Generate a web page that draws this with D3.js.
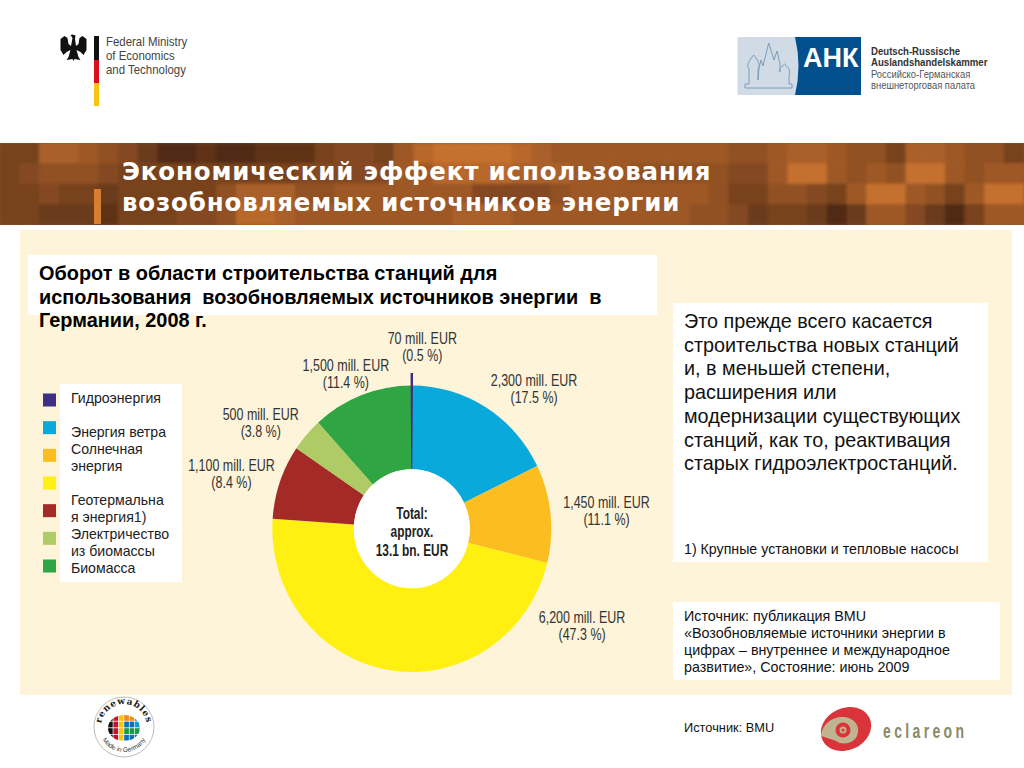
<!DOCTYPE html>
<html>
<head>
<meta charset="utf-8">
<script src="https://cdn.jsdelivr.net/npm/d3@7/dist/d3.min.js"></script>
<style>
  html, body { margin: 0; padding: 0; background: #fff; }
  svg { display: block; }
  text { font-family: "Liberation Sans", Arial, sans-serif; }
</style>
</head>
<body>
<div id="chart"></div>
<script>
// data
var values = [70, 2300, 1450, 6200, 1100, 500, 1500];
var shares = ["(0.5 %)", "(17.5 %)", "(11.1 %)", "(47.3 %)", "(8.4 %)", "(3.8 %)", "(11.4 %)"];
var sliceColors = ["#3d2f87", "#0aa9dc", "#fbbd20", "#fff012", "#a32a26", "#aecb66", "#2fa544"];
var legendLines = ["Гидроэнергия", "", "Энергия ветра", "Солнечная", "энергия", "", "Геотермальна", "я энергия1)", "Электричество", "из биомассы", "Биомасса"];
var totalLines = ["Total:", "approx.", "13.1 bn. EUR"];

var titleLines = ["Экономический эффект использования", "возобновляемых источников энергии"];
var headLines = ["Оборот в области строительства станций для", "использования  возобновляемых источников энергии  в", "Германии, 2008 г."];
var bodyLines = ["Это прежде всего касается", "строительства новых станций", "и, в меньшей степени,", "расширения или", "модернизации существующих", "станций, как то, реактивация", "старых гидроэлектростанций."];
var sourceLines = ["Источник: публикация BMU", "«Возобновляемые источники энергии в", "цифрах – внутреннее и международное", "развитие», Состояние: июнь 2009"];

// brightness of the banner tiles, 0 dark to 9 light
var bannerRows = [
  "33776542001001113443689999876666666" + "66556776553776553",
  "34555433333333344444668888777666555" + "55446996565996566",
  "33433233333577755666666644445666666" + "65335543699653699",
  "33222133344588766666666777666666666" + "55423320266420366"
];

var svg = d3.select("#chart").append("svg").attr("width", 1024).attr("height", 768);
var defs = svg.append("defs");

function lines(g, arr, x, y, step, size, attrs) {
  var t = g.append("g").selectAll("text").data(arr).join("text")
    .attr("x", x)
    .attr("y", (d, i) => y + i * step)
    .attr("font-size", size)
    .attr("xml:space", "preserve")
    .style("white-space", "pre")
    .text(d => d);
  Object.keys(attrs || {}).forEach(k => t.attr(k, attrs[k]));
  return t;
}

// no narrow font is installed, so squeeze the text sideways around its own x
function squeeze(sel, f) {
  return sel.attr("transform", function() {
    var x = +this.getAttribute("x") || 0;
    return "translate(" + x + ",0) scale(" + f + ",1) translate(" + (-x) + ",0)";
  });
}

// banner
var tone = d3.scaleLinear().domain([0, 9]).range(["#512b15", "#c4702f"]);
defs.append("clipPath").attr("id", "bannerClip").append("rect").attr("x", 0).attr("y", 143).attr("width", 1024).attr("height", 82);
defs.append("filter").attr("id", "soft").attr("x", "-2%").attr("y", "-10%").attr("width", "104%").attr("height", "120%")
  .append("feGaussianBlur").attr("stdDeviation", 1.5);
var bx = d3.scaleLinear().domain([0, 52]).range([0, 1024]);
var by = d3.scaleLinear().domain([0, 4]).range([143, 225]);
var bannerClip = svg.append("g").attr("clip-path", "url(#bannerClip)");
bannerClip.append("rect").attr("x", 0).attr("y", 143).attr("width", 1024).attr("height", 82).attr("fill", "#8a5430");
var banner = bannerClip.append("g").attr("filter", "url(#soft)");
bannerRows.forEach((row, r) => {
  banner.append("g").selectAll("rect").data(row.split("")).join("rect")
    .attr("x", (d, i) => bx(i) - 0.3)
    .attr("y", by(r) - 0.3)
    .attr("width", bx(1) + 0.6)
    .attr("height", by(1) - by(0) + 0.6)
    .attr("fill", d => tone(+d));
});
svg.append("rect").attr("x", 94).attr("y", 189).attr("width", 7).attr("height", 35).attr("fill", "#d67f30");
lines(svg, titleLines, 122, 180, 31, 24.5, { fill: "#fff", "font-weight": "bold", "letter-spacing": 0.84 })
  .style("font-family", "'DejaVu Sans', sans-serif");

// panel and white boxes
svg.append("rect").attr("x", 20).attr("y", 230).attr("width", 992).attr("height", 465).attr("fill", "#fdf4d9");
svg.append("rect").attr("x", 28).attr("y", 255).attr("width", 629).attr("height", 60).attr("fill", "#fff");
svg.append("rect").attr("x", 60).attr("y", 384).attr("width", 122).attr("height", 198).attr("fill", "#fff");
svg.append("rect").attr("x", 673).attr("y", 303).attr("width", 315).attr("height", 259).attr("fill", "#fff");
svg.append("rect").attr("x", 673).attr("y", 602).attr("width", 327).attr("height", 78).attr("fill", "#fff");

lines(svg, headLines, 39, 280, 23.5, 19.9, { fill: "#000", "font-weight": "bold" });
lines(svg, bodyLines, 684, 328, 23.7, 19.8, { fill: "#111" });
lines(svg, ["1) Крупные установки и тепловые насосы"], 684, 554, 0, 14.2, { fill: "#111" });
lines(svg, sourceLines, 684, 621, 16.9, 14.3, { fill: "#111" });
lines(svg, ["Источник: BMU"], 684, 732, 0, 12.8, { fill: "#111" });

// legend
var legendY = d3.scalePoint().domain(d3.range(7)).range([400, 566]);
svg.append("g").selectAll("rect").data(sliceColors).join("rect")
  .attr("x", 43)
  .attr("y", (d, i) => legendY(i) - 6.5)
  .attr("width", 13)
  .attr("height", 13)
  .attr("fill", d => d);
lines(svg, legendLines, 71, 402.5, 17.05, 14.1, { fill: "#222" });

// pie, slightly taller than wide like the picture
var cx = 411.8, cy = 528.7, rOuter = 139.5, rInner = 58, spike = 12;
var pie = d3.pie().sort(null).startAngle(-values[0] / d3.sum(values) * Math.PI).endAngle(2 * Math.PI - values[0] / d3.sum(values) * Math.PI);
var arcs = pie(values);
var arc = d3.arc().innerRadius(rInner).outerRadius(rOuter);
var chart = svg.append("g").attr("transform", "translate(" + cx + "," + cy + ") scale(1,1.027)");

// neighbours close up to the middle of the thin hydro slice
chart.append("g").selectAll("path").data(arcs.slice(1)).join("path")
  .attr("d", (d, i) => arc({
    startAngle: i === 0 ? 0 : d.startAngle,
    endAngle: i === arcs.length - 2 ? 2 * Math.PI : d.endAngle
  }))
  .attr("fill", (d, i) => sliceColors[i + 1]);
var hw = arcs[0].endAngle / 2;
chart.append("path")
  .attr("d", d3.arc().innerRadius(rInner).outerRadius(rOuter + spike)({ startAngle: -hw, endAngle: hw }))
  .attr("fill", sliceColors[0]);
chart.append("circle").attr("r", rInner).attr("fill", "#fff");

// value labels, offset from the outer rim of each slice
var labelOffsets = [[10.5, -38.6], [47.3, -18.6], [56, -2.7], [191.9, -44], [-48.5, -8.2], [-45.8, -11.5], [-14.7, -21]];
var rim = d3.arc().innerRadius(rOuter).outerRadius(rOuter);
var labels = svg.append("g").selectAll("g").data(arcs).join("g")
  .attr("transform", (d, i) => {
    var c = rim.centroid(d);
    return "translate(" + (cx + c[0] + labelOffsets[i][0]) + "," + (cy + c[1] * 1.027 + labelOffsets[i][1]) + ")";
  });
squeeze(labels.append("text")
  .attr("text-anchor", "middle").attr("y", -3).attr("font-size", 16).attr("fill", "#333")
  .text(d => d3.format(",")(d.value) + " mill. EUR"), 0.78);
squeeze(labels.append("text")
  .attr("text-anchor", "middle").attr("y", 14).attr("font-size", 16).attr("fill", "#333")
  .text((d, i) => shares[i]), 0.78);

squeeze(lines(svg, totalLines, 412, 519, 18.5, 16.5, { fill: "#222", "font-weight": "bold", "text-anchor": "middle" }), 0.72);

// ministry logo
var eagle = svg.append("g").attr("fill", "#111").attr("transform", "translate(73.5,35)");
eagle.append("path").attr("d", "M-1,3 L-3,0 L-1,-0.5 L2,0.5 L1.5,4 L2.5,11 L5,9 L6,3 L9,1 L13,4 L13,15 L10,20 L7,17 L3,15 L5,22 L7,25 L1,24 L0,26 L-1,24 L-7,25 L-5,22 L-3,15 L-7,17 L-10,20 L-13,15 L-13,4 L-9,1 L-6,3 L-5,9 L-2.5,11 Z");
svg.append("rect").attr("x", 94).attr("y", 36).attr("width", 5).attr("height", 24).attr("fill", "#111");
svg.append("rect").attr("x", 94).attr("y", 60).attr("width", 5).attr("height", 23).attr("fill", "#d8101c");
svg.append("rect").attr("x", 94).attr("y", 83).attr("width", 5).attr("height", 23).attr("fill", "#fbc210");
squeeze(lines(svg, ["Federal Ministry", "of Economics", "and Technology"], 106, 46, 13.8, 13, { fill: "#444" }), 0.88);

// AHK logo
svg.append("rect").attr("x", 737.5).attr("y", 37).attr("width", 123.5).attr("height", 58).attr("fill", "#d0dbe6");
svg.append("path").attr("d", "M795,37 Q802,66 795,95 L861,95 L861,37 Z").attr("fill", "#024f8e");
svg.append("path")
  .attr("d", "M745,88 L745,84 L749,84 L749,69 C746,66 749,60 753.7,55 C758,60 761,66 758,69 L758,80 L759,68 L761,60 L763,66 L768.7,43 L774,60 L777,51 L780,64 L780,72 C778,70 781,67 784.7,64 C788,67 791,70 789,76 L789,84 L792,84 L792,88 Z")
  .attr("fill", "none").attr("stroke", "#7d9cb8").attr("stroke-width", 1);
lines(svg, ["АНК"], 803, 67, 0, 27, { fill: "#fff", "font-weight": "bold" });
squeeze(lines(svg, ["Deutsch-Russische", "Auslandshandelskammer"], 871, 55, 11.5, 10.8, { fill: "#333", "font-weight": "bold" }), 0.89);
squeeze(lines(svg, ["Российско-Германская", "внешнеторговая палата"], 871, 78, 10.6, 10.8, { fill: "#555" }), 0.87);

// renewables logo
var logo = svg.append("g").attr("transform", "translate(124,727)");
logo.append("circle").attr("r", 30).attr("fill", "#fff").attr("stroke", "#aaa").attr("stroke-width", 0.8);
defs.append("clipPath").attr("id", "globe").append("ellipse").attr("cx", 0).attr("cy", 1).attr("rx", 16).attr("ry", 13);
var cellColors = [
  ["#111", "#c8102e", "#fbc210", "#f08a1d", "#f08a1d", "#0a9fd8"],
  ["#111", "#c8102e", "#fbc210", "#0a6fb8", "#0a6fb8", "#0a9fd8"],
  ["#111", "#c8102e", "#fbc210", "#1a9a48", "#1a9a48", "#1a9a48"],
  ["#111", "#c8102e", "#fbc210", "#0a6fb8", "#0a6fb8", "#0a6fb8"]
];
var globe = logo.append("g").attr("clip-path", "url(#globe)");
cellColors.forEach((row, r) => {
  globe.append("g").selectAll("rect").data(row).join("rect")
    .attr("x", (d, i) => -16 + i * 5.4)
    .attr("y", -12 + r * 6.6)
    .attr("width", 4.7)
    .attr("height", 5.8)
    .attr("fill", d => d);
});
defs.append("path").attr("id", "ringTop").attr("d", "M-19,13 A23,23 0 1,1 19,13");
defs.append("path").attr("id", "ringBottom").attr("d", "M-25,0 A25,25 0 0,0 25,0");
logo.append("text").attr("font-size", 9).attr("font-weight", "bold").attr("fill", "#222").attr("letter-spacing", 0.8)
  .attr("text-anchor", "middle")
  .style("font-family", "'DejaVu Serif', serif")
  .append("textPath").attr("href", "#ringTop").attr("startOffset", "50%").text("renewables");
logo.append("text").attr("font-size", 6.5).attr("fill", "#333")
  .attr("text-anchor", "middle")
  .append("textPath").attr("href", "#ringBottom").attr("startOffset", "50%").text("Made in Germany");

// eclareon logo
var ecl = svg.append("g").attr("transform", "translate(846,729)");
ecl.append("ellipse").attr("rx", 26).attr("ry", 21).attr("transform", "rotate(-25)").attr("fill", "#d8343a");
ecl.append("path").attr("d", "M-25,7 C-24,-6 -12,-13 -2,-12 C9,-11 15,-2 11,7 C8,14 -3,17 -10,12 C-14,10 -20,9 -25,7 Z").attr("fill", "#bfb390");
ecl.append("circle").attr("cx", -3).attr("cy", 1).attr("r", 7.5).attr("fill", "#d8343a");
ecl.append("circle").attr("cx", -3).attr("cy", 1).attr("r", 3.5).attr("fill", "#bfb390");
ecl.append("circle").attr("cx", -3).attr("cy", 1).attr("r", 1.5).attr("fill", "#d8343a");
squeeze(lines(svg, ["eclareon"], 883, 738, 0, 20, { fill: "#8b8a68", "font-weight": "bold", "letter-spacing": 4.8 }), 0.7);
</script>
</body>
</html>
